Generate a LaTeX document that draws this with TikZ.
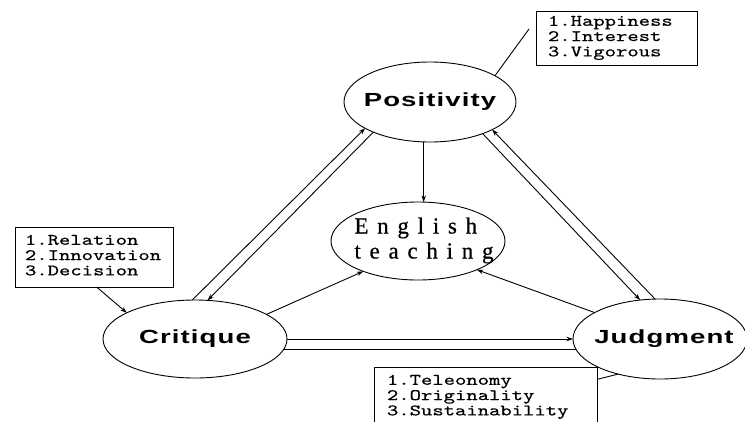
\documentclass[tikz,border=0pt]{standalone}
\usepackage{fontspec}
\usepackage{graphicx}
\usetikzlibrary{shapes.geometric,arrows.meta}
\newfontfamily\ovalfont{Liberation Sans}[LetterSpace=4]
\newfontfamily\engfont{Liberation Serif}[LetterSpace=38,FakeBold=0.6]
\newfontfamily\boxfont{lmmono10-regular.otf}[FakeBold=0.5]
\newcommand\ovaltext[1]{\makebox[0pt]{\scalebox{1.45}[1]{\fontsize{19}{21}\selectfont\ovalfont\bfseries #1}}}
\newcommand\listtext[3]{\makebox[#1][l]{\hspace*{#2}\scalebox{1.35}[1]{\fontsize{16}{15.3}\selectfont\boxfont\begin{tabular}{@{}l@{}}#3\end{tabular}}}}
\begin{document}
\begin{tikzpicture}[x=1pt,y=-1pt,
  oval/.style={draw,ellipse,line width=0.9pt,inner sep=0pt,outer sep=0pt},
  infobox/.style={draw,rectangle,line width=0.9pt,inner sep=0pt,outer sep=0pt,anchor=north west},
  conn/.style={line width=0.9pt},
  arr/.style={conn,-{Stealth[length=6.5pt,width=4.5pt]}}]
\useasboundingbox (0,0) rectangle (745,421);
\clip (0,0) rectangle (745,421);

% ovals
\node[oval,minimum width=172pt,minimum height=80pt] (pos) at (430,102) {\ovaltext{Positivity}};
\node[oval,minimum width=174pt,minimum height=78pt] (eng) at (418,241)
  {\makebox[0pt]{\hspace*{12pt}\fontsize{23}{25}\selectfont\engfont\begin{tabular}{@{}l@{}}English\\teaching\end{tabular}}};
\node[oval,minimum width=184pt,minimum height=78pt] (cri) at (195,339) {\ovaltext{Critique}};
\node[oval,minimum width=174pt,minimum height=80pt] (jud) at (660,339) {\hspace*{8pt}\ovaltext{Judgment}};

% boxes
\node[infobox,minimum width=161pt,minimum height=54pt] (hbox) at (536,11)
  {\raisebox{3pt}{\listtext{159pt}{11pt}{1.Happiness\\2.Interest\\3.Vigorous}}};
\node[infobox,minimum width=158pt,minimum height=60pt] (lbox) at (15,227)
  {\listtext{156pt}{9pt}{1.Relation\\2.Innovation\\3.Decision}};
\node[infobox,minimum width=223pt,minimum height=60pt] (bbox) at (374,367)
  {\listtext{221pt}{12pt}{1.Teleonomy\\2.Originality\\3.Sustainability}};

% connectors
\coordinate (htail) at (529,29);
\draw[conn] (htail) -- (pos.22);
\draw[arr] (lbox.275.7) -- (cri.159);
\draw[conn] (bbox.9.7) -- (jud.220);

\draw[arr] (pos.261.5) -- (pos.261.5 |- eng.north);
\draw[arr] (cri.19.9) -- (eng.209.4);
\draw[arr] (jud.158.8) -- (eng.334.5);

\draw[arr] (cri.94.4) -- (pos.202.6);
\draw[arr] (pos.208.1) -- (cri.72.4);
\draw[arr] (pos.329.7) -- (jud.117.6);
\draw[arr] (jud.97) -- (pos.336);

\draw[arr] (cri.0) -- (jud.180);
\draw[conn] (cri.353.2) -- (cri.353.2 -| jud.187.4);
\end{tikzpicture}
\end{document}
